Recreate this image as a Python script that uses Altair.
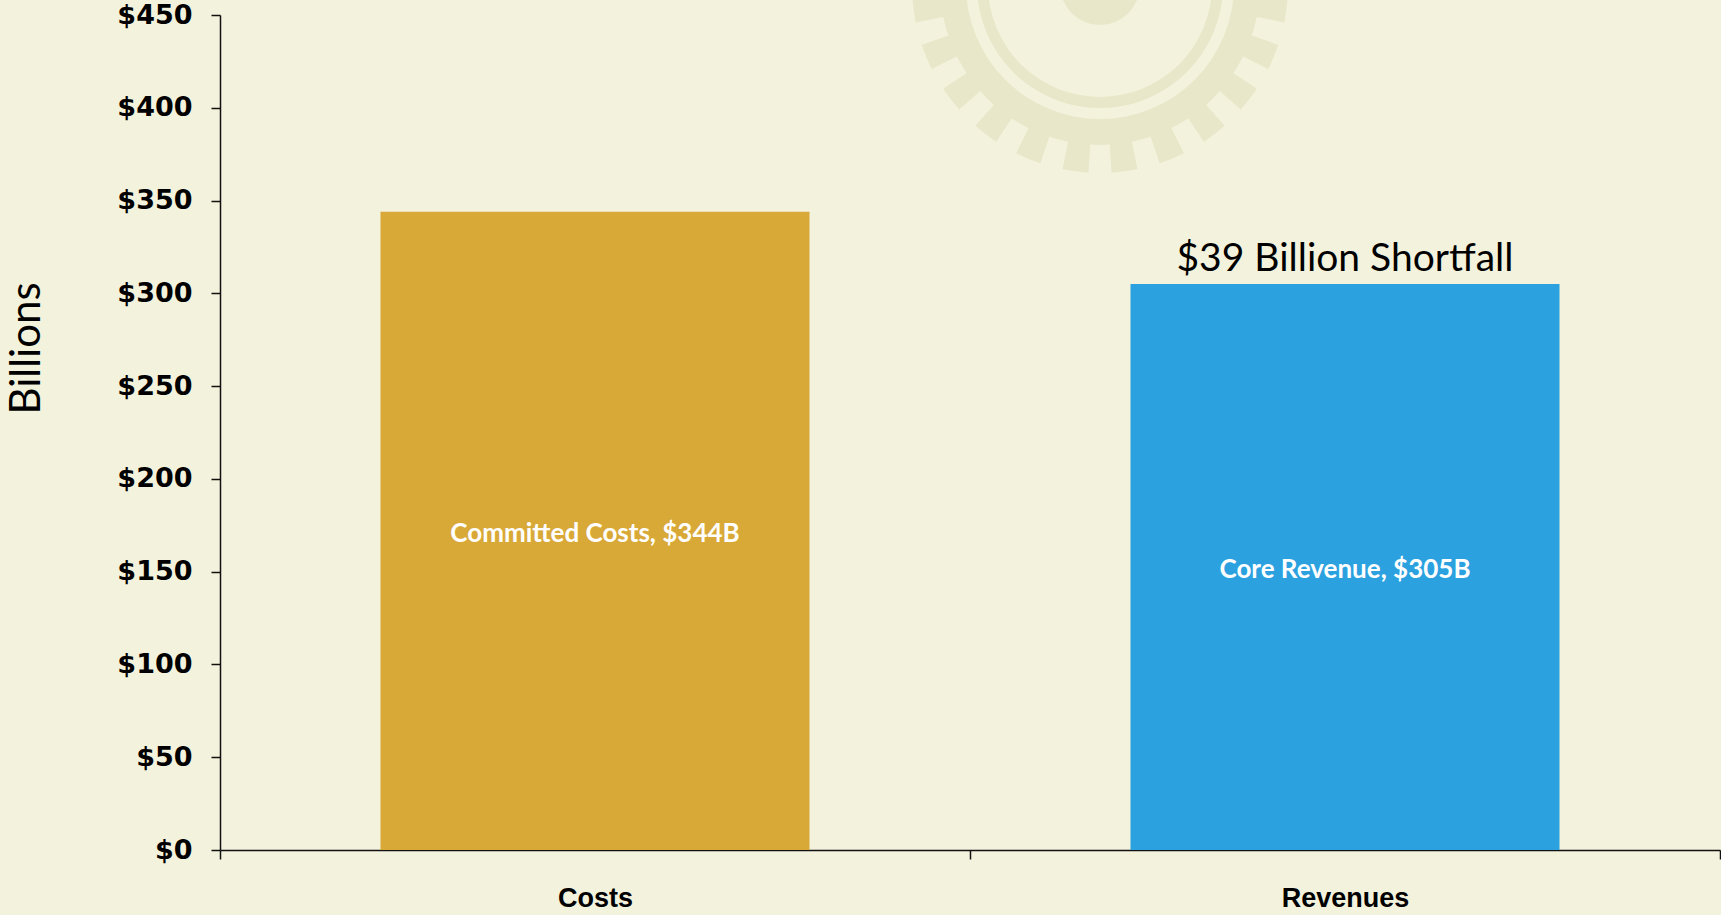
import altair as alt
import pandas as pd
import math

# ---- data ----
categories = ["Costs", "Revenues"]
values = [344, 305]
bar_labels = ["Committed Costs, $344B", "Core Revenue, $305B"]
bar_colors = ["#D9A938", "#2BA1E0"]
note_category = ["Revenues"]
note_value = [305]
note_text = ["$39 Billion Shortfall"]
y_ticks = [0, 50, 100, 150, 200, 250, 300, 350, 400, 450]

df = pd.DataFrame({"cat": categories, "value": values, "label": bar_labels, "color": bar_colors})
note_df = pd.DataFrame({"cat": note_category, "value": note_value, "text": note_text})

BG = "#F3F2DC"
GEAR = "#E8E7CA"

x_enc = alt.X(
    "cat:N",
    sort=categories,
    scale=alt.Scale(paddingInner=0, paddingOuter=0),
    axis=alt.Axis(
        title=None, labelAngle=0, tickBand="extent", tickSize=9, tickWidth=1.5,
        tickColor="#111111", domainColor="#111111", domainWidth=1.5,
        labelFont="Liberation Sans", labelFontWeight="bold", labelFontSize=27,
        labelColor="#000000", labelPadding=26,
    ),
)
y_scale = alt.Scale(domain=[0, 450], nice=False, zero=True)

# ---- decorative gear watermark (drawn in pixel space) ----
gx, gy = 880, -30
teeth = pd.DataFrame({"t0": [math.radians(k * 15 + 7.5 - 4.0) for k in range(24)],
                      "t1": [math.radians(k * 15 + 7.5 + 4.0) for k in range(24)]})
full = pd.DataFrame({"t0": [0.0], "t1": [2 * math.pi]})

def ring(r_out, r_in, data):
    return alt.Chart(data).mark_arc(color=GEAR).encode(
        x=alt.value(gx), y=alt.value(gy),
        theta=alt.Theta("t0:Q", scale=None, stack=None),
        theta2="t1:Q",
        radius=alt.value(r_out), radius2=alt.value(r_in),
    )

gear_teeth = ring(188, 150, teeth)
gear_body = ring(160, 134, full)
gear_ring = ring(123, 112, full)
gear_core = ring(40, 0, full)

bars = alt.Chart(df).mark_bar(width=alt.RelativeBandSize(0.572)).encode(
    x=x_enc,
    y=alt.Y(
        "value:Q", scale=y_scale,
        axis=alt.Axis(
            values=y_ticks, format="$.0f", tickSize=9, tickWidth=1.5, tickColor="#111111",
            domainColor="#111111", domainWidth=1.5, grid=False,
            labelFont="DejaVu Sans", labelFontWeight="bold", labelFontSize=27,
            labelColor="#000000", labelPadding=19,
            title="Billions", titleFont="Lato", titleFontSize=42, titleFontWeight="normal",
            titleColor="#000000", titleAngle=-90, titleX=-181, titleY=333,
            titleAlign="center", titleBaseline="alphabetic",
        ),
    ),
    color=alt.Color("color:N", scale=None),
)

inner_text = alt.Chart(df).transform_calculate(mid="datum.value / 2").mark_text(
    font="Lato", fontWeight="bold", fontSize=26, color="white", baseline="middle", dy=3
).encode(
    x=alt.X("cat:N", sort=categories),
    y=alt.Y("mid:Q", scale=y_scale),
    text="label:N",
)

note = alt.Chart(note_df).mark_text(
    font="Lato", fontSize=39, color="#000000", baseline="alphabetic", dy=-13
).encode(
    x=alt.X("cat:N", sort=categories),
    y=alt.Y("value:Q", scale=y_scale),
    text="text:N",
)

chart = alt.layer(gear_teeth, gear_body, gear_ring, gear_core, bars, inner_text, note).properties(
    width=1500, height=835,
    autosize=alt.AutoSizeParams(type="none"),
    padding={"left": 220, "top": 15, "right": 1, "bottom": 65},
    background=BG,
).configure_view(stroke=None)

chart.save("out.html", embed_options={"renderer": "svg", "actions": False})
